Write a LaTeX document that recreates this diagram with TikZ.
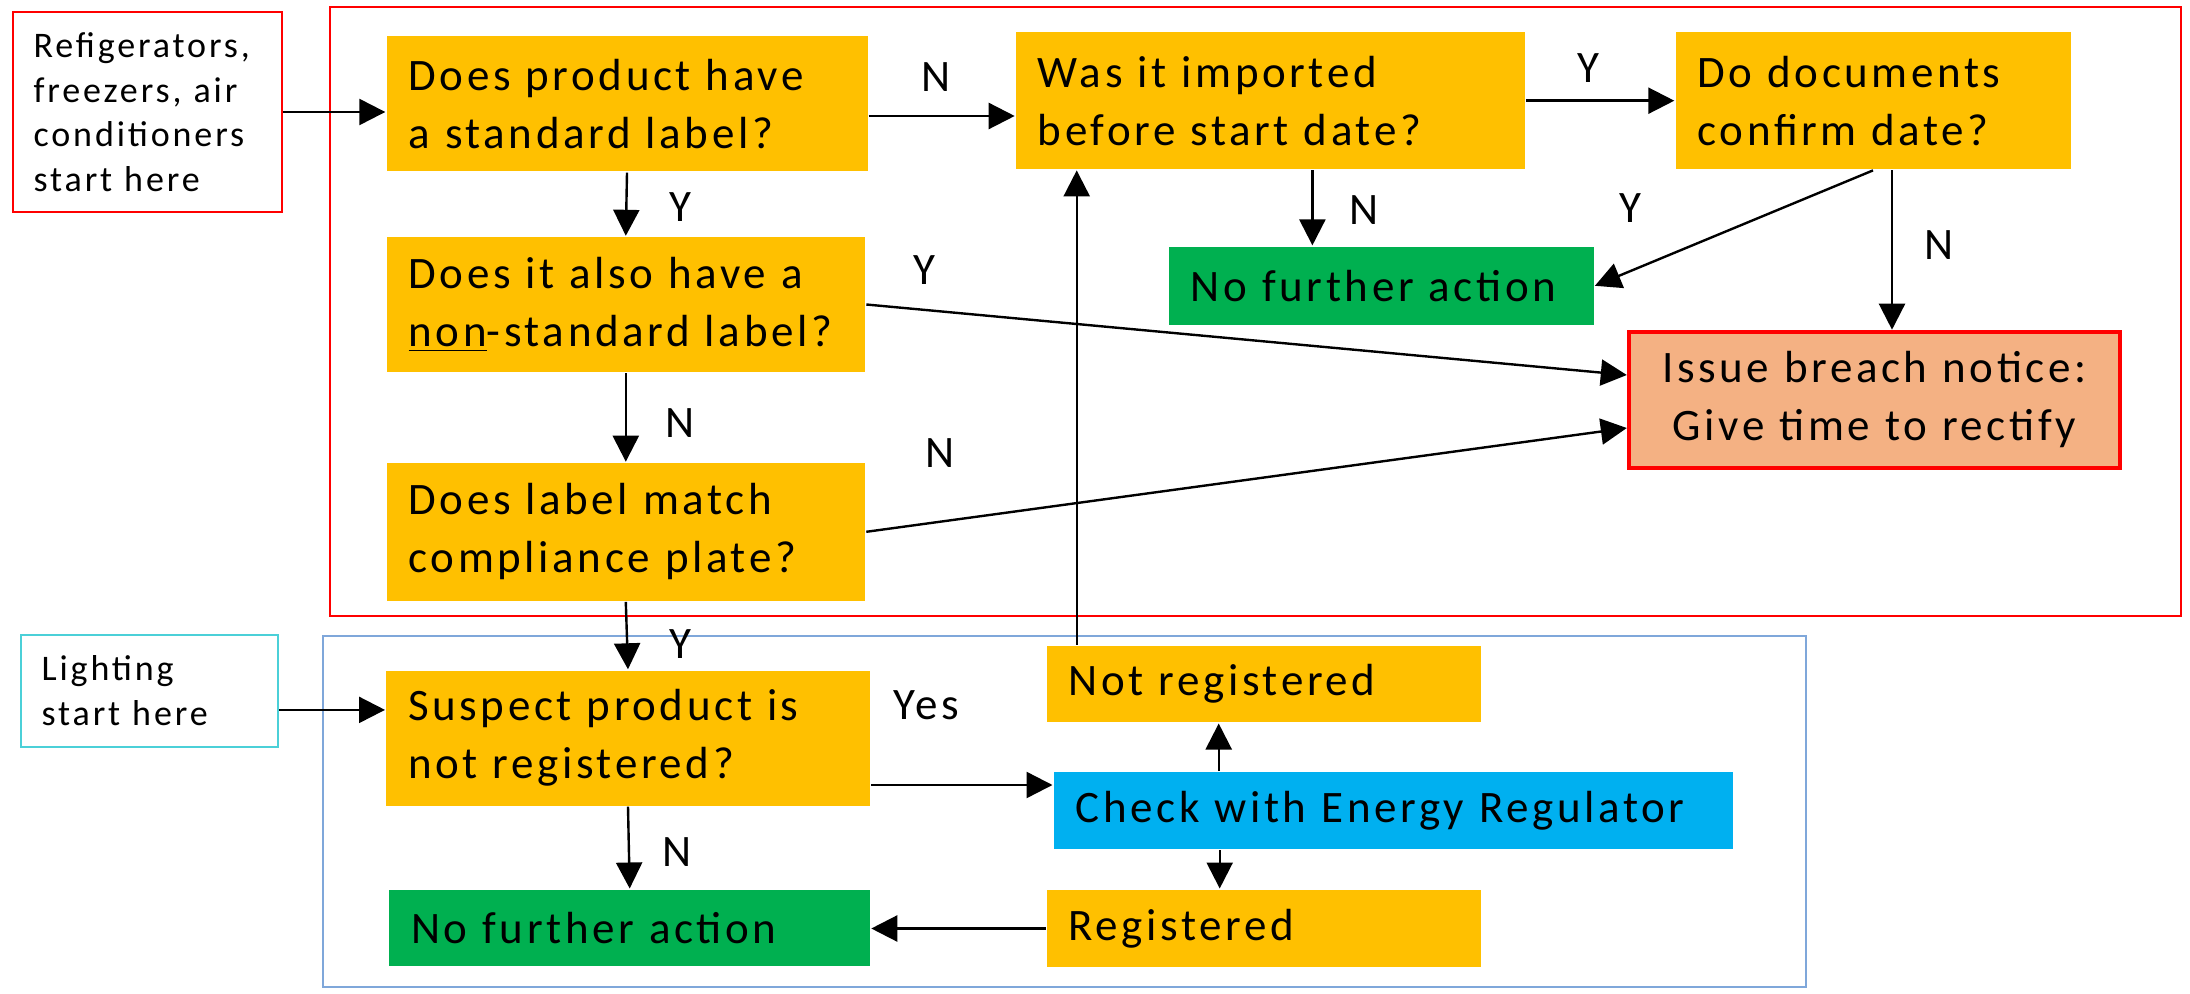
\documentclass[tikz,border=0pt]{standalone}
\usepackage{fontspec}
\setmainfont{Carlito}[LetterSpace=8]
\usepackage{tikz}
\usetikzlibrary{arrows.meta}
\usetikzlibrary{positioning}
\definecolor{qorange}{HTML}{FFC000}
\definecolor{qgreen}{HTML}{00B050}
\definecolor{qblue}{HTML}{00B0F0}
\definecolor{qsalmon}{HTML}{F4B183}
\definecolor{qred}{HTML}{FF0000}
\definecolor{frameblue}{HTML}{7FA7DA}
\definecolor{framecyan}{HTML}{4BD0D8}
\tikzset{
  every picture/.style={line width=1.2pt},
  box/.style 2 args={inner xsep=11pt, inner ysep=0pt, align=left, text width=#1, minimum height=#2,
    font=\fontsize{22.5}{29}\selectfont},
  qbox/.style 2 args={box={#1}{#2}, fill=qorange},
  okbox/.style 2 args={box={#1}{#2}, fill=qgreen},
  startbox/.style 2 args={box={#1}{#2}, draw, line width=1pt, inner xsep=10.5pt,
    font=\fontsize{18}{22.3}\selectfont},
  lab/.style={font=\fontsize{22.5}{29}\selectfont, inner sep=0pt},
  arr/.style={-{Triangle[length=13pt,width=13pt]}}
}
\begin{document}
\begin{tikzpicture}[x=0.5pt,y=-0.5pt]
\useasboundingbox (0,0) rectangle (2190,994);
% group frames
\draw[qred, line width=1pt] (329.7,7.3) rectangle (2180.9,615.7);
\draw[frameblue, line width=1pt] (322.7,635.7) rectangle (1805.5,987.3);
% start boxes
\node[startbox={113.7pt}{99.7pt}, qred] (fridge) at (147.3,112) {\color{black}Refigerators,\\ freezers, air\\ conditioners\\ start here};
\node[startbox={107.8pt}{55.9pt}, framecyan] (light) at (149.4,690.9) {\color{black}Lighting\\ start here};
% questions
\node[qbox={218.5pt}{67.5pt}] (std) at (627,104) {Does product have\\ a standard label?};
\node[qbox={232.5pt}{68.5pt}] (imp) at (1270.4,100.7) {Was it imported\\ before start date?};
\node[qbox={175.5pt}{68.5pt}] (doc) at (1873,100.7) {Do documents\\ confirm date?};
\node[qbox={217.3pt}{67.5pt}] (nonstd) at (625.8,304.5) {Does it also have a\\ \underline{non}-standard label?};
\node[qbox={217.3pt}{68.9pt}] (plate) at (625.8,531.8) {Does label match\\ compliance plate?};
\node[qbox={219.8pt}{67.5pt}] (susp) at (628,738) {Suspect product is\\ not registered?};
% outcomes
\node[okbox={190.4pt}{39.2pt}] (nfaTop) at (1381.3,285.8) {No further action};
\node[okbox={218.4pt}{38pt}] (nfaBot) at (629.7,927.7) {No further action};
\node[box={223.5pt}{68.3pt}, align=center, fill=qsalmon, draw=qred, line width=2pt] (breach) at (1874.3,400) {Issue breach notice:\\ Give time to rectify};
\node[box={317.8pt}{38.4pt}, fill=qblue] (check) at (1393.5,810.7) {Check with Energy Regulator};
\node[qbox={195pt}{38.3pt}] (notreg) at (1263.7,684) {Not registered};
\node[qbox={195pt}{38.8pt}] (reg) at (1263.7,928.5) {Registered};
% connectors
\draw[arr] (fridge.east) -- (fridge.east -| std.west);
\draw[arr] ([yshift=-6pt]std.east) -- ([yshift=-6pt]std.east -| imp.west);
\draw[arr] (imp.east) -- (imp.east -| doc.west);
\draw[arr] (std.south) -- (nonstd.north);
\draw[arr] ([xshift=21pt]imp.south) -- ([xshift=21pt]imp.south |- nfaTop.north);
\draw[arr] (doc.south) -- (nfaTop.east);
\draw[arr] ([xshift=9.5pt]doc.south) -- ([xshift=9.5pt]doc.south |- breach.north);
\draw[arr] (nonstd.east) -- ([yshift=12.5pt]breach.west);
\draw[arr] (plate.east) -- ([yshift=-14pt]breach.west);
\draw[arr] (nonstd.south) -- (plate.north);
\draw[arr] (plate.south) -- (susp.north);
\draw[arr] ([yshift=-9.5pt]light.east) -- ([yshift=-9.5pt]light.east -| susp.west);
\draw[arr] ([yshift=-23.5pt]susp.east) -- ([yshift=-23.5pt]susp.east -| check.west);
\draw[arr] (susp.south) -- (nfaBot.north);
\draw[arr] ([xshift=-22.5pt]notreg.south |- check.north) -- ([xshift=-22.5pt]notreg.south);
\draw[arr] ([xshift=-22pt]reg.north |- check.south) -- ([xshift=-22pt]reg.north);
\draw[arr] (reg.west) -- (reg.west -| nfaBot.east);
\draw[arr] ([xshift=15.6pt]notreg.north west) -- ([xshift=15.6pt]notreg.north west |- imp.south);
% labels
\node[lab] (lStdImp) at (936.5,76.7) {N};
\node[lab] (lImpDoc) at (1588,68) {Y};
\node[lab] (lStdNon) at (680,207) {Y};
\node[lab] (lImpNfa) at (1363.6,210) {N};
\node[lab] (lDocNfa) at (1630,208) {Y};
\node[lab] (lDocBr) at (1939,245) {N};
\node[lab] (lNonBr) at (924,270) {Y};
\node[lab] (lNonPl) at (680,423) {N};
\node[lab] (lPlBr) at (940,453) {N};
\node[lab] (lPlSus) at (680,644) {Y};
\node[lab] (lSusChk) at (926,705.7) {Yes};
\node[lab] (lSusNfa) at (677,852) {N};
\end{tikzpicture}
\end{document}
